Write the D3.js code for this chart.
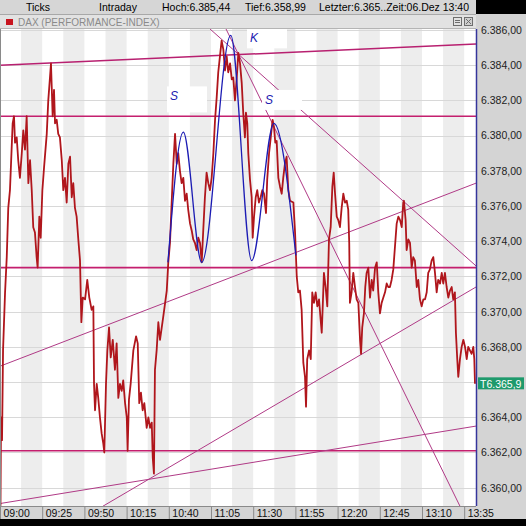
<!DOCTYPE html>
<meta charset="utf-8">

<!-- Load d3.js -->
<script src="https://d3js.org/d3.v7.min.js"></script>

<body style="margin:0;background:#000">

<div id="chart"></div>

<script>

  // ticks: minutes after 09:00 and index level
  const minutes = [
    0.0, 0.3, 0.6, 1.2, 1.8, 3.0, 4.0, 4.9, 5.9, 7.5,
    8.3, 8.9, 9.9, 10.8, 11.8, 12.9, 13.8, 14.8, 15.8, 16.8,
    17.8, 18.8, 19.7, 20.7, 21.7, 22.3, 23.3, 24.1, 25.1, 26.1,
    27.7, 28.6, 29.6, 30.2, 31.2, 32.0, 32.6, 33.6, 34.5, 35.5,
    36.6, 37.5, 38.5, 39.5, 40.5, 41.5, 42.5, 43.4, 44.4, 45.4,
    46.4, 47.4, 48.2, 49.0, 50.4, 51.7, 52.9, 54.3, 55.3, 55.7,
    56.3, 57.3, 58.2, 59.2, 60.2, 61.2, 61.8, 62.8, 63.6, 64.6,
    65.6, 66.8, 68.1, 69.1, 70.1, 71.1, 72.1, 73.0, 74.1, 75.1,
    75.6, 76.4, 77.4, 79.0, 80.6, 81.6, 82.5, 83.5, 84.5, 85.5,
    86.9, 87.9, 88.9, 89.9, 90.5, 91.2, 91.8, 92.8, 93.8, 94.8,
    96.7, 98.8, 99.7, 100.7, 101.7, 102.7, 103.7, 104.7, 105.6, 106.6,
    107.6, 108.6, 109.6, 110.6, 111.5, 112.6, 113.6, 114.5, 115.5, 116.5,
    117.5, 118.5, 119.5, 120.4, 121.4, 122.4, 123.4, 124.4, 125.4, 126.4,
    127.4, 128.4, 129.3, 130.3, 131.3, 132.3, 133.3, 134.3, 135.2, 136.3,
    137.3, 138.2, 139.2, 140.2, 141.2, 142.2, 143.2, 144.1, 145.1, 145.7,
    146.5, 147.1, 148.1, 149.1, 149.7, 150.5, 151.5, 152.4, 153.4, 154.4,
    155.4, 156.4, 157.6, 158.3, 159.4, 160.4, 161.5, 162.3, 163.1, 163.9,
    164.9, 165.9, 166.9, 167.8, 168.8, 169.8, 170.8, 171.8, 173.8, 174.8,
    175.8, 176.7, 177.7, 178.7, 179.7, 180.7, 181.3, 182.0, 183.1, 184.1,
    185.0, 186.0, 187.0, 188.0, 189.0, 190.0, 190.6, 191.2, 191.9, 192.9,
    193.9, 194.9, 195.9, 196.9, 197.7, 198.5, 199.5, 200.4, 201.4, 202.4,
    203.4, 204.4, 205.4, 206.3, 206.9, 207.3, 208.3, 209.3, 210.3, 211.3,
    212.3, 213.3, 213.9, 214.6, 215.6, 216.4, 217.2, 218.2, 219.2, 220.2,
    221.1, 222.2, 223.2, 224.1, 225.1, 226.1, 227.1, 228.1, 229.1, 230.0,
    231.0, 232.0, 233.0, 234.0, 235.0, 236.0, 237.0, 238.0, 238.9, 239.3,
    240.3, 240.9, 241.9, 242.9, 243.9, 244.8, 245.8, 246.9, 247.8, 248.8,
    249.8, 250.8, 251.8, 252.8, 253.7, 254.7, 255.7, 256.7, 257.7, 258.7,
    259.6, 260.7, 261.7, 262.6, 263.6, 264.6, 265.6, 266.6, 267.6, 268.5,
    269.5, 270.1, 270.9, 271.5, 272.5, 273.5, 274.5, 275.5, 276.5, 277.4,
    278.4, 279.4, 280.4, 281.0, 281.4
  ];
  const prices = [
    6361.0, 6359.0, 6364.0, 6362.7, 6367.8, 6371.1, 6373.1, 6375.9, 6376.9, 6380.7,
    6381.1, 6379.6, 6379.9, 6378.6, 6377.6, 6379.0, 6380.3, 6379.2, 6381.1, 6377.3,
    6378.6, 6376.9, 6374.8, 6374.5, 6373.1, 6372.5, 6375.4, 6374.2, 6376.9, 6378.2,
    6380.1, 6382.0, 6383.3, 6384.1, 6381.1, 6382.6, 6380.7, 6380.9, 6380.1, 6379.9,
    6378.6, 6376.9, 6377.6, 6376.2, 6378.4, 6378.8, 6376.5, 6377.3, 6375.9, 6375.4,
    6374.1, 6372.9, 6369.4, 6370.8, 6370.7, 6371.8, 6370.8, 6370.1, 6370.3, 6365.9,
    6364.4, 6365.9, 6365.1, 6364.0, 6363.1, 6362.5, 6362.0, 6365.9, 6367.8, 6369.1,
    6367.4, 6368.4, 6366.7, 6368.2, 6365.1, 6365.9, 6365.5, 6366.1, 6364.8, 6364.0,
    6362.1, 6365.0, 6365.9, 6367.8, 6368.6, 6368.2, 6364.8, 6365.4, 6364.4, 6364.8,
    6363.4, 6364.0, 6363.4, 6363.7, 6361.7, 6360.8, 6366.7, 6367.8, 6369.4, 6368.4,
    6369.7, 6371.2, 6372.8, 6373.9, 6376.2, 6378.4, 6380.1, 6378.4, 6379.0, 6378.0,
    6377.3, 6377.6, 6376.3, 6376.7, 6375.8, 6375.0, 6374.6, 6374.1, 6373.9, 6373.5,
    6374.2, 6373.9, 6372.8, 6374.6, 6376.5, 6377.9, 6377.3, 6376.9, 6377.6, 6379.0,
    6380.9, 6382.2, 6383.6, 6384.5, 6385.4, 6384.9, 6383.7, 6384.5, 6383.6, 6384.1,
    6383.2, 6383.3, 6382.0, 6383.2, 6384.7, 6384.1, 6383.0, 6381.3, 6379.9, 6381.3,
    6380.7, 6379.0, 6377.5, 6376.5, 6374.2, 6375.4, 6376.5, 6376.9, 6376.2, 6376.5,
    6376.9, 6376.7, 6375.6, 6377.5, 6379.0, 6379.9, 6380.9, 6380.5, 6379.6, 6379.7,
    6377.6, 6377.1, 6376.7, 6377.6, 6378.4, 6378.8, 6376.9, 6376.3, 6376.2, 6374.5,
    6372.0, 6371.1, 6371.2, 6370.1, 6367.1, 6366.3, 6364.6, 6367.3, 6367.8, 6367.3,
    6371.1, 6370.5, 6371.1, 6370.3, 6370.7, 6369.5, 6368.8, 6370.3, 6372.2, 6371.4,
    6370.3, 6374.1, 6374.8, 6377.1, 6377.9, 6376.7, 6375.4, 6375.2, 6374.8, 6375.9,
    6376.7, 6376.2, 6376.3, 6375.8, 6373.9, 6370.5, 6371.1, 6372.2, 6371.4, 6370.7,
    6370.5, 6368.4, 6367.6, 6369.1, 6369.9, 6371.4, 6372.2, 6372.5, 6370.8, 6371.8,
    6371.2, 6372.5, 6372.8, 6371.1, 6369.9, 6370.5, 6370.8, 6371.1, 6371.6, 6371.4,
    6371.4, 6371.8, 6372.4, 6373.7, 6375.0, 6375.4, 6375.2, 6374.8, 6376.2, 6376.3,
    6375.2, 6373.5, 6374.1, 6373.9, 6372.5, 6373.1, 6372.9, 6371.4, 6371.8, 6370.7,
    6370.3, 6370.7, 6370.7, 6371.1, 6372.2, 6372.4, 6372.9, 6373.1, 6372.2, 6371.1,
    6371.8, 6371.6, 6372.2, 6371.6, 6372.2, 6371.4, 6370.8, 6371.2, 6371.4, 6370.7,
    6371.1, 6368.8, 6367.3, 6366.3, 6367.3, 6368.0, 6368.4, 6368.0, 6367.3, 6368.0,
    6367.8, 6367.6, 6368.0, 6367.3, 6365.9
  ];

  // hand drawn head & shoulders sketch (turning points)
  const sketchMinutes = [99.5, 108.6, 119.5, 136.7, 149.1, 162.3, 175.3];
  const sketchPrices  = [6372.8, 6380.2, 6372.8, 6385.7, 6372.9, 6380.7, 6373.2];

  // pattern labels and where they sit (minute, price)
  const patternLabels = ["S", "K", "S"];
  const labelMinutes = [100.7, 148.1, 157.0];
  const labelPrices  = [6382.0, 6385.3, 6381.8];

  // horizontal levels and trend lines [minute1, price1, minute2, price2]
  const levels = [6381.1, 6372.5, 6362.1];
  const trendLines = [
    [0, 6384.0, 282, 6385.2],
    [0, 6359.1, 282, 6363.5],
    [0, 6366.9, 282, 6377.3],
    [61.0, 6358.95, 282, 6371.4],
    [124.4, 6386.06, 282, 6372.6],
    [133.9, 6386.06, 272.5, 6358.95]
  ];

  const xTickLabels = ["09:00","09:25","09:50","10:15","10:40","11:05","11:30","11:55","12:20","12:45","13:10","13:35"];
  const yTicks = [6360, 6362, 6364, 6366, 6368, 6370, 6372, 6374, 6376, 6378, 6380, 6382, 6384, 6386];
  const headerTexts = ["Ticks", "Intraday", "Hoch:6.385,44", "Tief:6.358,99", "Letzter:6.365..Zeit:06.Dez 13:40"];
  const lastPrice = 6365.9;

  // layout
  const width = 526, height = 526;
  const plot = {left: 0, right: 476, top: 29, bottom: 506};
  const font = "'Liberation Sans', Arial, sans-serif";

  const de = d3.formatLocale({decimal: ",", thousands: ".", grouping: [3], currency: ["", "€"]});

  const t0 = d3.timeParse("%H:%M")("09:00");
  const toDate = m => new Date(+t0 + m * 60000);

  const x = d3.scaleTime().domain([t0, toDate(282)]).range([plot.left, plot.right]);
  const y = d3.scaleLinear().domain([6360, 6386]).range([487.7, 30]);

  const svg = d3.select("#chart")
    .append("svg")
      .attr("width", width)
      .attr("height", height)
      .style("display", "block")
      .style("font-family", font);

  svg.append("defs").append("clipPath").attr("id", "plotClip")
    .append("rect")
      .attr("x", plot.left).attr("y", plot.top)
      .attr("width", plot.right - plot.left).attr("height", plot.bottom - plot.top);

  // window chrome
  svg.append("rect").attr("width", width).attr("height", height).attr("fill", "#d4d4d4");
  svg.append("rect").attr("width", width).attr("height", 14).attr("fill", "#d6d6d6");
  svg.append("rect").attr("x", 476).attr("width", 50).attr("height", 14).attr("fill", "#000");
  svg.append("rect").attr("y", height - 7).attr("width", width).attr("height", 7).attr("fill", "#000");

  const headerX = [26, 99, 162, 245, 319];
  svg.append("g").selectAll("text")
    .data(headerTexts)
    .join("text")
      .attr("x", (d, i) => headerX[i])
      .attr("y", 11)
      .attr("font-size", "10.5px")
      .attr("fill", "#000")
      .text(d => d);

  // title bar
  svg.append("rect").attr("x", 0).attr("y", 14).attr("width", 476).attr("height", 15).attr("fill", "#e2e2e2");
  svg.append("line").attr("x1", 0).attr("x2", 476).attr("y1", 14.5).attr("y2", 14.5).attr("stroke", "#a8a8a8");
  svg.append("line").attr("x1", 0).attr("x2", 476).attr("y1", 28.5).attr("y2", 28.5).attr("stroke", "#b4b4b4");
  svg.append("rect").attr("x", 6).attr("y", 19).attr("width", 7).attr("height", 6).attr("fill", "#c8141e");
  svg.append("text").attr("x", 18).attr("y", 25.5).attr("font-size", "10px").attr("fill", "#8a8a8a")
    .text("DAX (PERFORMANCE-INDEX)");
  const icons = svg.append("g").attr("fill", "none").attr("stroke", "#6e6e6e");
  icons.append("rect").attr("x", 453.5).attr("y", 17.5).attr("width", 8).attr("height", 8);
  icons.append("path").attr("d", "M455,20.5H460M455,22.5H460");
  icons.append("rect").attr("x", 464.5).attr("y", 17.5).attr("width", 8).attr("height", 8).attr("fill", "#cfcfcf");
  icons.append("path").attr("d", "M466,19L471,24M471,19L466,24");

  // plot background: white with alternating grey bands
  svg.append("rect")
    .attr("x", plot.left).attr("y", plot.top)
    .attr("width", plot.right - plot.left).attr("height", plot.bottom - plot.top)
    .attr("fill", "#fff");

  const parseHM = d3.timeParse("%H:%M");
  const tickDates = xTickLabels.map(s => parseHM(s));

  const plotG = svg.append("g").attr("clip-path", "url(#plotClip)");

  plotG.append("g").selectAll("rect")
    .data(tickDates)
    .join("rect")
      .attr("x", d => x(new Date(+d + 12.5 * 60000)))
      .attr("y", plot.top)
      .attr("width", d => x(new Date(+d + 25 * 60000)) - x(new Date(+d + 12.5 * 60000)))
      .attr("height", plot.bottom - plot.top)
      .attr("fill", "#ededed");

  plotG.append("g").selectAll("line")
    .data(yTicks)
    .join("line")
      .attr("x1", plot.left).attr("x2", plot.right)
      .attr("y1", d => Math.round(y(d)) + 0.5).attr("y2", d => Math.round(y(d)) + 0.5)
      .attr("stroke", "#d8d8d8");

  // horizontal levels
  plotG.append("g").selectAll("line")
    .data(levels)
    .join("line")
      .attr("x1", plot.left).attr("x2", plot.right)
      .attr("y1", d => y(d)).attr("y2", d => y(d))
      .attr("stroke", "#c41f6e")
      .attr("stroke-width", 1.6);

  // trend lines
  plotG.append("g").selectAll("line")
    .data(trendLines)
    .join("line")
      .attr("x1", d => x(toDate(d[0]))).attr("y1", d => y(d[1]))
      .attr("x2", d => x(toDate(d[2]))).attr("y2", d => y(d[3]))
      .attr("stroke", (d, i) => i === 0 ? "#b82070" : "#b03a86")
      .attr("stroke-width", (d, i) => i === 0 ? 1.5 : 1);

  // price line
  const ticks = minutes.map((m, i) => ({t: toDate(m), p: prices[i]}));
  plotG.append("path")
    .datum(ticks)
    .attr("fill", "none")
    .attr("stroke", "#b0161c")
    .attr("stroke-width", 1.8)
    .attr("stroke-linejoin", "round")
    .attr("d", d3.line().x(d => x(d.t)).y(d => y(d.p)));

  // head & shoulders sketch
  const sketch = sketchMinutes.map((m, i) => ({t: toDate(m), p: sketchPrices[i]}));
  plotG.append("path")
    .datum(sketch)
    .attr("fill", "none")
    .attr("stroke", "#1c1cb4")
    .attr("stroke-width", 1.3)
    .attr("d", d3.line().curve(d3.curveMonotoneX).x(d => x(d.t)).y(d => y(d.p)));

  // pattern labels on white boxes
  const lab = plotG.append("g").selectAll("g")
    .data(patternLabels)
    .join("g")
      .attr("transform", (d, i) => `translate(${x(toDate(labelMinutes[i]))},${y(labelPrices[i])})`);
  lab.append("rect")
    .attr("x", -3).attr("y", -14).attr("width", 40).attr("height", (d, i) => i === 0 ? 26 : 20)
    .attr("fill", "#fff");
  lab.append("text")
    .attr("font-size", "12px")
    .attr("font-style", "italic")
    .attr("fill", "#2020b0")
    .text(d => d);

  // plot borders
  svg.append("line").attr("x1", 0.5).attr("x2", 0.5).attr("y1", plot.top).attr("y2", plot.bottom).attr("stroke", "#8a8a8a");
  svg.append("line").attr("x1", plot.right + 0.5).attr("x2", plot.right + 0.5).attr("y1", plot.top).attr("y2", plot.bottom)
    .attr("stroke", "#35359c").attr("stroke-width", 1.5);

  // right value axis (the 6.366 label sits under the last price marker)
  const yAxis = svg.append("g")
    .attr("transform", `translate(${plot.right},0)`)
    .call(d3.axisRight(y)
      .tickValues(yTicks.filter(v => Math.abs(y(v) - y(lastPrice)) > 8))
      .tickFormat(de.format(",.2f")).tickSize(0).tickPadding(5));
  yAxis.select(".domain").remove();
  yAxis.selectAll("text").attr("font-size", "10.5px").attr("font-family", font).attr("fill", "#222");

  // last price marker
  const lp = svg.append("g").attr("transform", `translate(478,${y(lastPrice)})`);
  lp.append("rect").attr("x", 0).attr("y", -6.5).attr("width", 46).attr("height", 12).attr("fill", "#1e9a6c");
  lp.append("text").attr("x", 2).attr("y", 4).attr("font-size", "10.5px").attr("fill", "#fff")
    .text("T" + de.format(",.1f")(lastPrice));

  // time axis row
  svg.append("line").attr("x1", 0).attr("x2", plot.right).attr("y1", 506.5).attr("y2", 506.5).attr("stroke", "#8a8a8a");
  const xAxis = svg.append("g")
    .attr("transform", `translate(0,507)`)
    .call(d3.axisBottom(x).tickValues(tickDates).tickFormat(d3.timeFormat("%H:%M")).tickSize(12).tickPadding(0));
  xAxis.select(".domain").remove();
  xAxis.selectAll(".tick line").attr("stroke", "#8a8a8a");
  xAxis.selectAll(".tick text")
    .attr("font-size", "10.5px").attr("font-family", font).attr("fill", "#111")
    .attr("text-anchor", "start").attr("x", 3).attr("y", 2.5).attr("dy", "0.71em");

</script>
</body>
